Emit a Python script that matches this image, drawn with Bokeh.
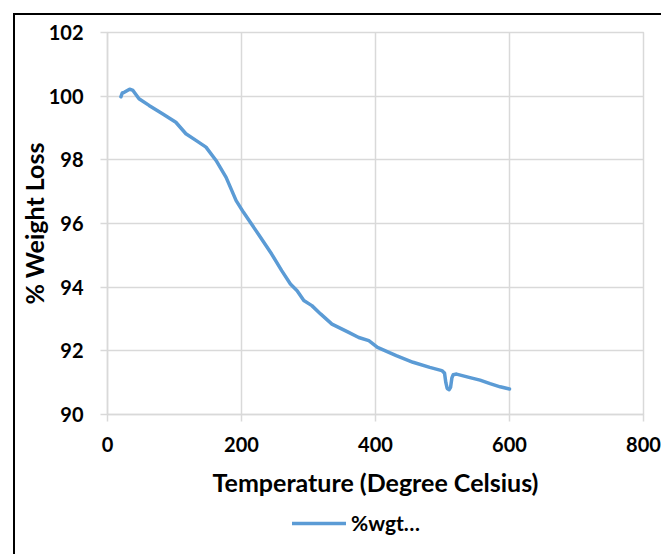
from bokeh.plotting import figure
from bokeh.models import Legend, LegendItem, FixedTicker, Spacer
from bokeh.layouts import column, row
from bokeh.embed import file_html
from bokeh.resources import INLINE

temperature = [20, 22, 25, 29, 33, 38, 47, 62, 82, 102, 117, 132, 147, 162, 177, 192, 203,
               225, 245, 260, 273, 283, 293, 305, 318, 335, 360, 375, 390, 403, 431, 456,
               481, 499, 503, 505, 507, 510, 512, 514, 516, 521, 541, 556, 571, 586, 600]
weight = [99.98, 100.10, 100.12, 100.17, 100.22, 100.18, 99.92, 99.71, 99.45, 99.18, 98.82,
          98.61, 98.40, 97.98, 97.45, 96.72, 96.35, 95.67, 95.04, 94.52, 94.10, 93.89, 93.58,
          93.42, 93.16, 92.84, 92.58, 92.42, 92.32, 92.11, 91.85, 91.64, 91.48, 91.38, 91.30,
          91.00, 90.82, 90.78, 90.85, 91.15, 91.25, 91.27, 91.16, 91.08, 90.97, 90.87, 90.80]
x_ticks = [0, 200, 400, 600, 800]
y_ticks = [90, 92, 94, 96, 98, 100, 102]
series_name = "%wgt\u2026"

FONT = "Lato"
GRID = "#d9d9d9"
BLUE = "#5b9bd5"

p = figure(width=646, height=491, x_range=(0, 800), y_range=(90, 102),
           output_backend="svg", toolbar_location=None,
           min_border_left=92, min_border_right=18, min_border_top=17, min_border_bottom=92)

p.outline_line_color = GRID
p.outline_line_width = 1.5
p.background_fill_color = "white"
p.border_fill_color = "white"

for ax, ticks in ((p.xaxis, x_ticks), (p.yaxis, y_ticks)):
    ax.ticker = FixedTicker(ticks=ticks)
    ax.axis_line_color = GRID
    ax.axis_line_width = 1.5
    ax.major_tick_line_color = GRID
    ax.major_tick_line_width = 1.5
    ax.major_tick_out = 7
    ax.major_tick_in = 0
    ax.minor_tick_line_color = None
    ax.major_label_text_font = FONT
    ax.major_label_text_font_style = "bold"
    ax.major_label_text_font_size = "20px"
    ax.major_label_text_color = "black"
    ax.axis_label_text_font = FONT
    ax.axis_label_text_font_style = "bold"
    ax.axis_label_text_font_size = "25px"
    ax.axis_label_text_color = "black"

p.xaxis.axis_label = "Temperature (Degree Celsius)"
p.yaxis.axis_label = "% Weight Loss"
p.xaxis.major_label_standoff = 15
p.xaxis.axis_label_standoff = 12
p.yaxis.major_label_standoff = 17
p.yaxis.axis_label_standoff = -3

p.xgrid.ticker = FixedTicker(ticks=x_ticks)
p.ygrid.ticker = FixedTicker(ticks=y_ticks)
for g in (p.xgrid, p.ygrid):
    g.grid_line_color = GRID
    g.grid_line_width = 1.5

p.line(temperature, weight, line_color=BLUE, line_width=3.5,
       line_join="round", line_cap="round")

# Legend strip below the chart; its view range excludes the data so only the key shows
p2 = figure(width=646, height=48, x_range=(-10, -9), y_range=(-10, -9),
            output_backend="svg", toolbar_location=None,
            x_axis_type=None, y_axis_type=None,
            min_border_left=14, min_border_right=0, min_border_top=0, min_border_bottom=14)
p2.grid.visible = False
p2.outline_line_color = None
p2.border_fill_color = "white"
p2.background_fill_color = "white"
r2 = p2.line(temperature, weight, line_color=BLUE, line_width=3.5, line_cap="round")
legend = Legend(items=[LegendItem(label=series_name, renderers=[r2])],
                location=(185, 5), orientation="horizontal",
                label_text_font=FONT, label_text_font_style="bold",
                label_text_font_size="21px", label_text_color="black",
                glyph_width=54, border_line_color=None, background_fill_alpha=0,
                margin=0, padding=4)
p2.add_layout(legend, "center")

chart = column(p, p2, spacing=0,
               styles={"border-left": "2px solid black", "border-top": "2px solid black"})
layout = column(Spacer(height=13), row(Spacer(width=13), chart))
open("out.html", "w").write(file_html(layout, INLINE))
